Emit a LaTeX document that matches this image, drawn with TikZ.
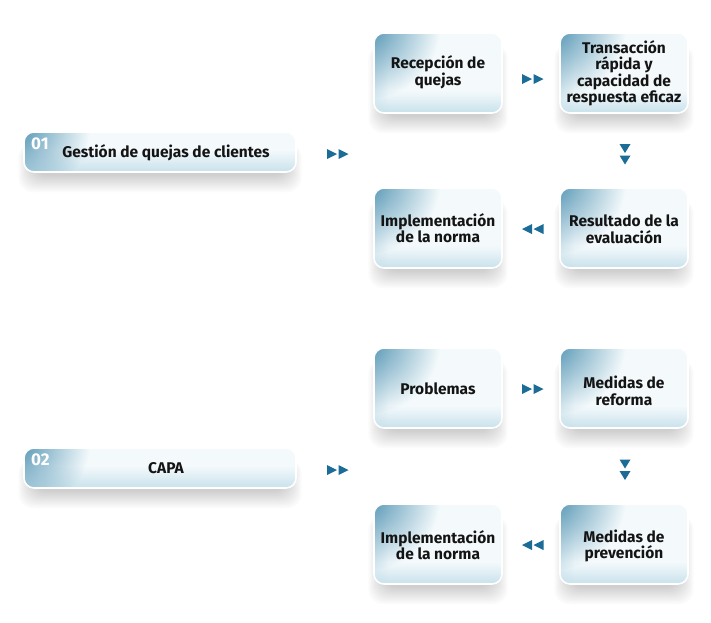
\documentclass[tikz,border=0pt]{standalone}
\usepackage{fontspec}
\setmainfont{Fira Sans}
\usetikzlibrary{fadings}
\definecolor{tealc}{HTML}{5394B3}
\definecolor{boxbase}{HTML}{F4FAFC}
\definecolor{boxbot}{HTML}{C9E2EC}
\definecolor{arrowc}{HTML}{1B6C96}
\definecolor{txt}{HTML}{141414}
\tikzfading[name=cornerfade, inner color=transparent!0, outer color=transparent!100]
\tikzset{
  boxtext/.style={font=\bfseries\fontsize{15.5}{16.5}\selectfont, text=txt, align=center, inner sep=0pt},
  numtext/.style={font=\bfseries\fontsize{17}{17}\selectfont, text=white, inner sep=0pt, anchor=north west},
  tri/.style={fill=arrowc, draw=none}
}
\newcommand\qbox[6]{% name, x1, y1, x2, y2, corner fade radius
  \foreach \i in {1,...,12}{
    \fill[black, opacity=0.015, rounded corners=14pt]
      (#2+10-\i*1.3, #3+16-\i*0.4) rectangle (#4-10+\i*1.3, #5+2+\i*1.5);
  }
  \begin{scope}
    \clip[rounded corners=10pt] (#2,#3) rectangle (#4,#5);
    \fill[boxbase] (#2,#3) rectangle (#4,#5);
    \fill[boxbot, path fading=north] (#2,#5-22) rectangle (#4,#5);
    \fill[boxbot, opacity=0.5, path fading=east] (#2,#3) rectangle (#2+14,#5);
    \fill[tealc, path fading=cornerfade] (#2-6,#3-6) circle (#6);
  \end{scope}
  \draw[white, line width=1.6pt, rounded corners=10pt] (#2,#3) rectangle (#4,#5);
  \coordinate (#1) at ({(#2+#4)/2},{(#3+#5)/2});
}
\newcommand\rtri[2]{\fill[tri] (#1-5,#2-5) -- (#1+5,#2) -- (#1-5,#2+5) -- cycle;}
\newcommand\ltri[2]{\fill[tri] (#1+5,#2-5) -- (#1-5,#2) -- (#1+5,#2+5) -- cycle;}
\newcommand\dtri[2]{\fill[tri] (#1-5.5,#2-4.5) -- (#1+5.5,#2-4.5) -- (#1,#2+4.5) -- cycle;}
\begin{document}
\begin{tikzpicture}[x=1pt,y=-1pt]
\useasboundingbox[fill=white] (0,0) rectangle (711,622);
% left boxes
\qbox{g1}{24}{132}{296}{172}{72}
\qbox{g2}{24}{448}{296}{488}{72}
% right boxes, group 1
\qbox{a1}{374}{33}{502}{113}{72}
\qbox{a2}{560}{33}{688}{113}{72}
\qbox{a3}{374}{188}{502}{268}{72}
\qbox{a4}{560}{188}{688}{268}{72}
% group 2
\qbox{b1}{374}{348}{502}{428}{72}
\qbox{b2}{560}{348}{688}{428}{72}
\qbox{b3}{374}{504}{502}{584}{72}
\qbox{b4}{560}{504}{688}{584}{72}
% texts
\node[numtext] (n1) at (31,137.5) {01};
\node[numtext] (n2) at (31,453.5) {02};
\node[boxtext] (t1) at (166,153) {Gestión de quejas de clientes};
\node[boxtext] (t2) at (166,468) {CAPA};
\node[boxtext] (ta1) at (438,72) {Recepción de\\quejas};
\node[boxtext] (ta2) at (624,73) {Transacción\\rápida y\\capacidad de\\respuesta eficaz};
\node[boxtext] (ta3) at (438,228) {Implementación\\de la norma};
\node[boxtext] (ta4) at (624,229) {Resultado de la\\evaluación};
\node[boxtext] (tb1) at (438,389) {Problemas};
\node[boxtext] (tb2) at (624,391) {Medidas de\\reforma};
\node[boxtext] (tb3) at (438,545) {Implementación\\de la norma};
\node[boxtext] (tb4) at (624,546) {Medidas de\\prevención};
% arrows
\rtri{332}{154}\rtri{343.5}{154}
\rtri{332}{470}\rtri{343.5}{470}
\rtri{527}{79}\rtri{538.5}{79}
\rtri{527}{389}\rtri{538.5}{389}
\dtri{625}{148.5}\dtri{625}{160}
\dtri{625}{464}\dtri{625}{475.5}
\ltri{527}{229}\ltri{538.5}{229}
\ltri{527}{545}\ltri{538.5}{545}
\end{tikzpicture}
\end{document}
